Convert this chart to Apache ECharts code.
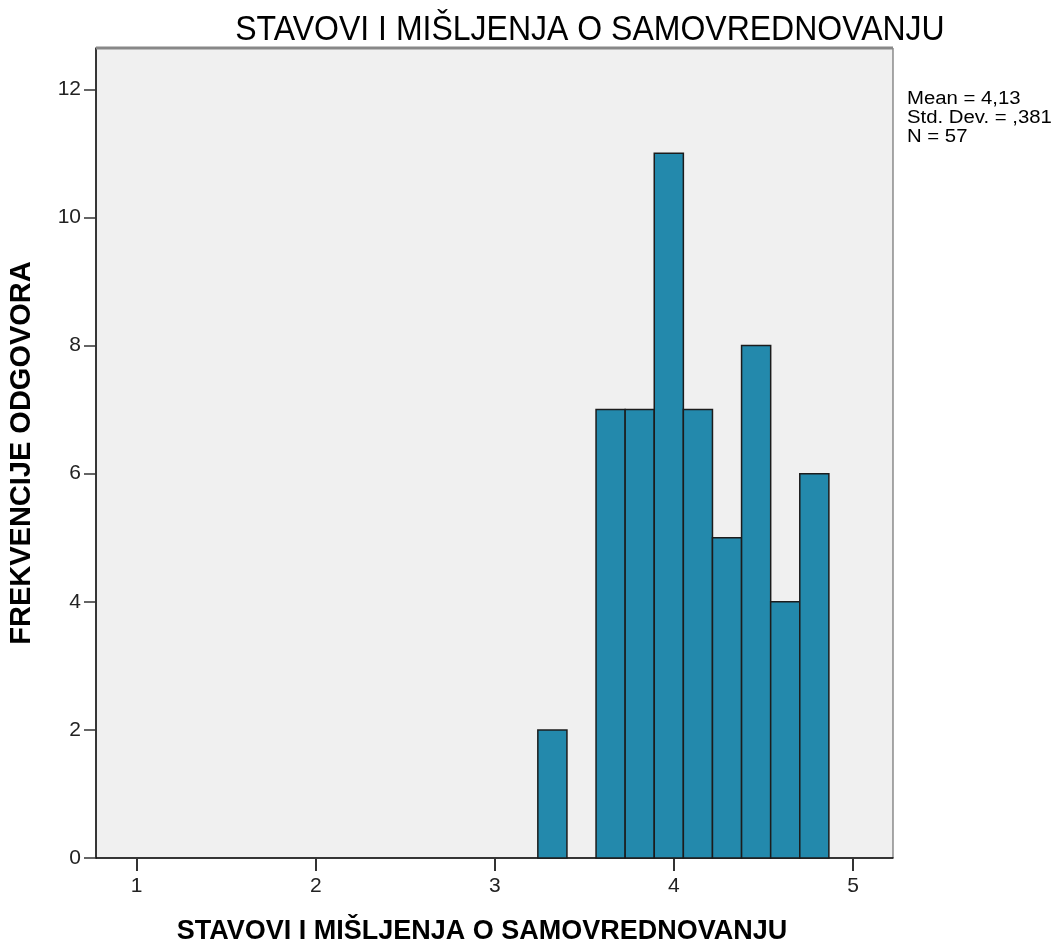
<!DOCTYPE html>
<html><head><meta charset="utf-8">
<script src="https://cdn.jsdelivr.net/npm/echarts@6/dist/echarts.min.js"></script>
<style>html,body{margin:0;padding:0;background:#fff}#c{width:1056px;height:945px}</style>
</head><body><div id="c"></div>
<script>
const chartTitle = 'STAVOVI I MIŠLJENJA O SAMOVREDNOVANJU';
const xName = 'STAVOVI I MIŠLJENJA O SAMOVREDNOVANJU';
const yName = 'FREKVENCIJE ODGOVORA';
const binStart = [3.24, 3.4025, 3.565, 3.7275, 3.89, 4.0525, 4.215, 4.3775, 4.54, 4.7025];
const binEnd   = [3.4025, 3.565, 3.7275, 3.89, 4.0525, 4.215, 4.3775, 4.54, 4.7025, 4.865];
const counts   = [2, 0, 7, 7, 11, 7, 5, 8, 4, 6];
const xTicks = [1, 2, 3, 4, 5];
const yTicks = [0, 2, 4, 6, 8, 10, 12];
const stats = ['Mean = 4,13', 'Std. Dev. = ,381', 'N = 57'];

const data = binStart.map((s, i) => [s, binEnd[i], counts[i]]);
const chart = echarts.init(document.getElementById('c'), null, {renderer: 'canvas'});
const FONT = '"Liberation Sans", Arial, sans-serif';
chart.setOption({
  animation: false,
  backgroundColor: '#ffffff',
  grid: {left: 96, right: 163, top: 48, bottom: 87, show: true, backgroundColor: '#F0F0F0', borderColor: '#555', borderWidth: 1},
  xAxis: {
    type: 'value', min: 0.773, max: 5.223,
    axisLine: {show: true, lineStyle: {color: '#111', width: 1.5}},
    axisTick: {show: true, customValues: xTicks, length: 13, lineStyle: {color: '#333', width: 2}},
    axisLabel: {customValues: xTicks, fontSize: 21, color: '#222', margin: 18, fontFamily: FONT},
    splitLine: {show: false}
  },
  yAxis: {
    type: 'value', min: 0, max: 12.645,
    axisLine: {show: true, lineStyle: {color: '#111', width: 1.5}},
    axisTick: {show: true, customValues: yTicks, length: 12, lineStyle: {color: '#333', width: 1.5}},
    axisLabel: {customValues: yTicks, fontSize: 21, color: '#222', margin: 15, fontFamily: FONT},
    splitLine: {show: false}
  },
  series: [{
    type: 'custom',
    data: data,
    encode: {x: [0, 1], y: 2},
    renderItem: function (params, api) {
      const x0 = api.value(0), x1 = api.value(1), v = api.value(2);
      if (!v) return null;
      const p0 = api.coord([x0, v]);
      const p1 = api.coord([x1, 0]);
      return {
        type: 'rect',
        shape: {x: p0[0], y: p0[1], width: p1[0] - p0[0], height: p1[1] - p0[1]},
        style: {fill: '#2389AC', stroke: '#1c1c1c', lineWidth: 1.5}
      };
    }
  }],
  graphic: [
    {type: 'line', shape: {x1: 96, y1: 48, x2: 893, y2: 48}, style: {stroke: '#888', lineWidth: 3}, z: 100},
    {type: 'text', x: 590, y: 30, scaleY: 1.12, style: {text: chartTitle, x: 0, y: 0, align: 'center', verticalAlign: 'middle', font: 'normal 32px ' + FONT, fill: '#000'}},
    {type: 'text', style: {text: xName, x: 482, y: 932, align: 'center', verticalAlign: 'middle', font: 'bold 27px ' + FONT, fill: '#000'}},
    {type: 'text', x: 22, y: 453, rotation: Math.PI / 2, style: {text: yName, x: 0, y: 0, align: 'center', verticalAlign: 'middle', font: 'bold 29px ' + FONT, fill: '#000'}},
    {type: 'text', x: 907, y: 90, scaleX: 1.13, style: {text: stats.join('\n'), x: 0, y: 0, align: 'left', verticalAlign: 'top', font: 'normal 18px ' + FONT, lineHeight: 19, fill: '#000'}}
  ]
});
</script>
</body></html>
